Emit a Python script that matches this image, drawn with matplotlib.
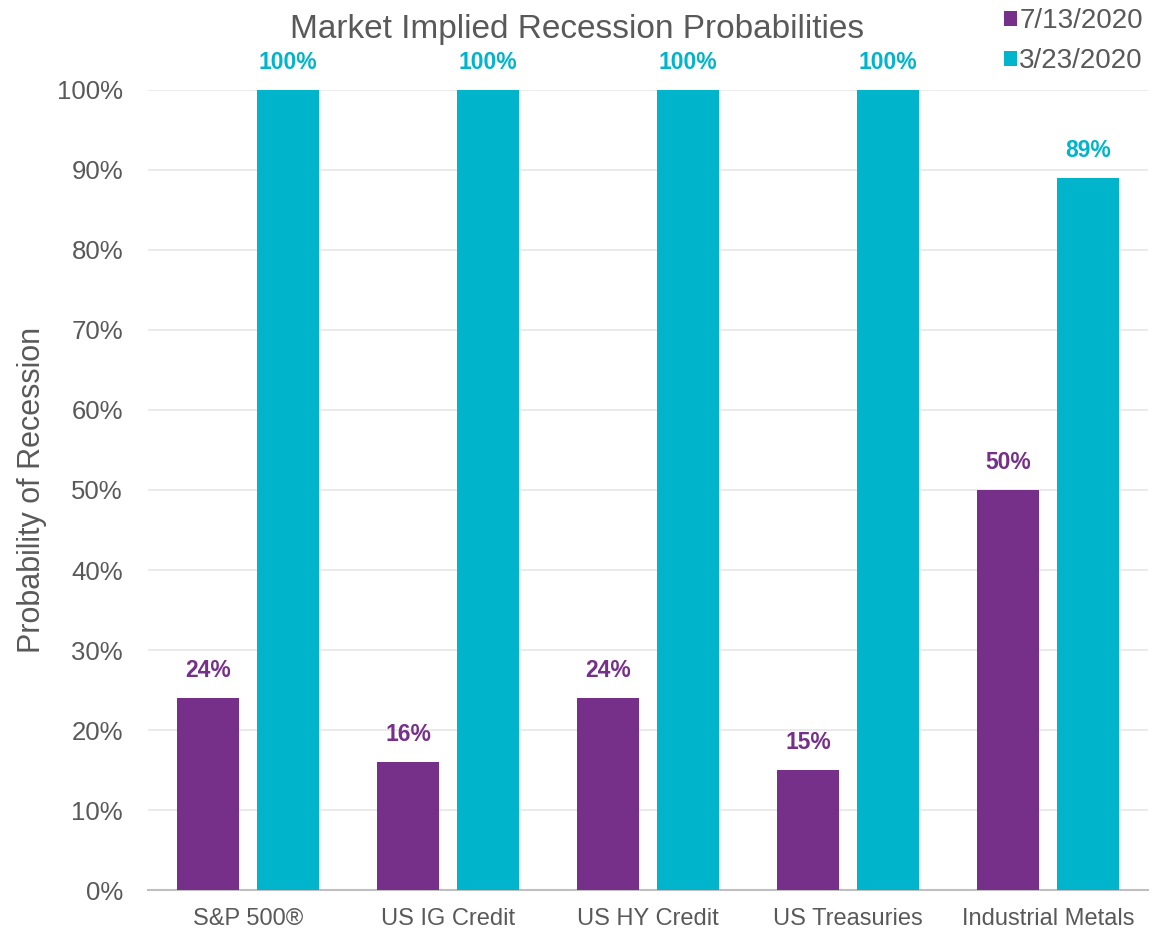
import matplotlib.pyplot as plt
import numpy as np

categories = ["S&P 500®", "US IG Credit", "US HY Credit", "US Treasuries", "Industrial Metals"]
series_names = ["7/13/2020", "3/23/2020"]
jul = [24, 16, 24, 15, 50]
mar = [100, 100, 100, 100, 89]

purple = "#76308A"
cyan = "#00B4CC"
grey = "#595959"

plt.rcParams['font.family'] = ['Liberation Sans', 'DejaVu Sans']

fig = plt.figure(figsize=(11.61, 9.32), dpi=100)
ax = fig.add_axes([0.1275, 0.045, 0.8615, 0.8585])

x = np.arange(len(categories))
w = 0.31
off = 0.2
b1 = ax.bar(x - off, jul, w, color=purple, label=series_names[0], zorder=3)
b2 = ax.bar(x + off, mar, w, color=cyan, label=series_names[1], zorder=3)

for rect, v in zip(b1, jul):
    ax.text(rect.get_x() + rect.get_width() / 2, v + 2.0, f"{v}%", ha="center", va="bottom",
            color=purple, fontsize=16.5, fontweight="bold", clip_on=False)
for rect, v in zip(b2, mar):
    ax.text(rect.get_x() + rect.get_width() / 2, v + 2.0, f"{v}%", ha="center", va="bottom",
            color=cyan, fontsize=16.5, fontweight="bold", clip_on=False)

ax.set_xlim(-0.5, 4.5)
ax.set_ylim(0, 100)
ax.set_yticks(np.arange(0, 101, 10))
ax.set_yticklabels([f"{t}%" for t in range(0, 101, 10)])
ax.set_xticks(x)
ax.set_xticklabels(categories)
ax.tick_params(axis="y", labelsize=18.5, colors=grey, length=0, pad=18)
ax.tick_params(axis="x", labelsize=17, colors=grey, length=0, pad=13)
ax.yaxis.grid(True, color="#E6E6E6", linewidth=1.2, zorder=0)
for s in ["top", "right", "left"]:
    ax.spines[s].set_visible(False)
ax.spines["bottom"].set_color("#BFBFBF")
ax.spines["bottom"].set_linewidth(1.5)

ax.set_ylabel("Probability of Recession", fontsize=22, color=grey, labelpad=7)
fig.text(0.497, 0.968, "Market Implied Recession Probabilities", ha="center", va="center",
         fontsize=24, color=grey)

fig.legend(handles=[b1, b2], loc="upper right", bbox_to_anchor=(1.006, 1.018), frameon=False,
           fontsize=20, handlelength=0.45, handleheight=0.45, handletextpad=0.1,
           labelspacing=0.5, labelcolor=grey)

fig.savefig("out.png", dpi=100)
